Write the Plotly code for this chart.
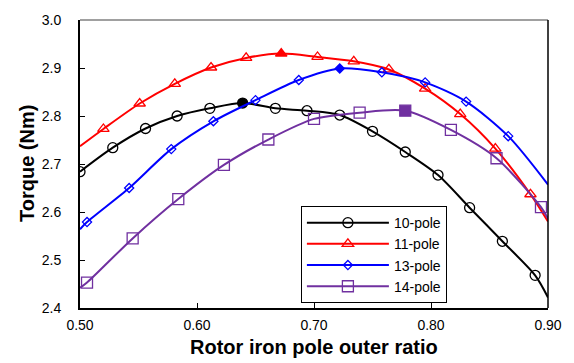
import plotly.graph_objects as go

# 10-pole
x10 = [0.500, 0.528, 0.556, 0.583, 0.611, 0.639, 0.667, 0.694, 0.722, 0.750, 0.778, 0.806, 0.833, 0.861, 0.889, 0.900]
y10 = [2.684, 2.734, 2.774, 2.800, 2.816, 2.827, 2.816, 2.811, 2.802, 2.768, 2.725, 2.677, 2.609, 2.539, 2.468, 2.422]
m10 = [1, 1, 1, 1, 1, 2, 1, 1, 1, 1, 1, 1, 1, 1, 1, 0]

# 11-pole
x11 = [0.500, 0.520, 0.551, 0.581, 0.612, 0.642, 0.672, 0.703, 0.734, 0.764, 0.795, 0.825, 0.855, 0.885, 0.900]
y11 = [2.737, 2.773, 2.826, 2.867, 2.901, 2.921, 2.930, 2.923, 2.914, 2.897, 2.857, 2.804, 2.732, 2.637, 2.580]
m11 = [0, 1, 1, 1, 1, 1, 2, 1, 1, 1, 1, 1, 1, 1, 0]

# 13-pole
x13 = [0.500, 0.506, 0.542, 0.578, 0.614, 0.650, 0.687, 0.722, 0.758, 0.795, 0.830, 0.866, 0.900]
y13 = [2.564, 2.579, 2.650, 2.731, 2.789, 2.833, 2.875, 2.899, 2.891, 2.870, 2.830, 2.758, 2.657]
m13 = [0, 1, 1, 1, 1, 1, 1, 2, 1, 1, 1, 1, 0]

# 14-pole
x14 = [0.500, 0.506, 0.545, 0.584, 0.623, 0.661, 0.700, 0.739, 0.778, 0.817, 0.856, 0.894, 0.900]
y14 = [2.442, 2.453, 2.545, 2.627, 2.698, 2.751, 2.794, 2.807, 2.811, 2.771, 2.712, 2.610, 2.586]
m14 = [0, 1, 1, 1, 1, 1, 1, 1, 2, 1, 1, 1, 0]

names = ["10-pole", "11-pole", "13-pole", "14-pole"]
colors = ["#000000", "#FF0000", "#0000FF", "#7030A0"]
symbols = ["circle", "triangle-up", "diamond", "square"]
sizes = [10, 10, 7, 11]

fig = go.Figure()
series = [(x10, y10, m10), (x11, y11, m11), (x13, y13, m13), (x14, y14, m14)]
for (xs, ys, ms), name, col, sym, sz in zip(series, names, colors, symbols, sizes):
    fig.add_trace(go.Scatter(x=xs, y=ys, mode="lines", line=dict(color=col, width=2, shape="spline", smoothing=0.8),
                             showlegend=False, hoverinfo="skip"))
    mx = [x for x, m in zip(xs, ms) if m > 0]
    my = [y for y, m in zip(ys, ms) if m > 0]
    msym = [sym if m == 2 else sym + "-open" for m in ms if m > 0]
    fig.add_trace(go.Scatter(x=mx, y=my, mode="markers",
                             marker=dict(symbol=msym, size=sz, color=col, line=dict(color=col, width=1.3)),
                             showlegend=False))
    fig.add_trace(go.Scatter(x=[None], y=[None], mode="lines+markers", name=name,
                             line=dict(color=col, width=2),
                             marker=dict(symbol=sym + "-open", size=sz, color=col, line=dict(color=col, width=1.3))))

fig.update_layout(
    width=574, height=363,
    margin=dict(l=80, r=17, t=14, b=55),
    plot_bgcolor="white", paper_bgcolor="white",
    font=dict(family="Arial, Liberation Sans", size=14, color="black"),
    xaxis=dict(range=[0.5, 0.9], dtick=0.1, tick0=0.5, tickformat=".2f",
               showgrid=False, zeroline=False, showline=True, linecolor="black", linewidth=2,
               ticks="inside", ticklen=5, tickcolor="black", tickwidth=1,
               tickfont=dict(size=14), ticklabelstandoff=3),
    yaxis=dict(range=[2.4, 3.0], dtick=0.1, tick0=2.4, tickformat=".1f",
               showgrid=False, zeroline=False, showline=True, linecolor="black", linewidth=2,
               ticks="inside", ticklen=5, tickcolor="black", tickwidth=1,
               tickfont=dict(size=14), ticklabelstandoff=14),
    legend=dict(x=0.472, y=0.354, xanchor="left", yanchor="top",
                bgcolor="white", bordercolor="black", borderwidth=1,
                font=dict(size=14), tracegroupgap=0, itemwidth=82),
    annotations=[
        dict(text="<b>Rotor iron pole outer ratio</b>", xref="paper", yref="paper", x=0.5, y=0,
             xanchor="center", yanchor="middle", yshift=-39, showarrow=False, font=dict(size=20)),
        dict(text="<b>Torque (Nm)</b>", xref="paper", yref="paper", x=0, y=0.5, textangle=-90,
             xanchor="center", yanchor="middle", xshift=-53, showarrow=False, font=dict(size=20)),
    ],
    shapes=[
        dict(type="line", xref="paper", yref="paper", x0=0, x1=1, y0=1, y1=1,
             line=dict(color="#808080", width=1.5), layer="above"),
        dict(type="line", xref="paper", yref="paper", x0=1, x1=1, y0=0, y1=1,
             line=dict(color="black", width=1.5), layer="above"),
    ],
)

fig.write_html("out.html")
